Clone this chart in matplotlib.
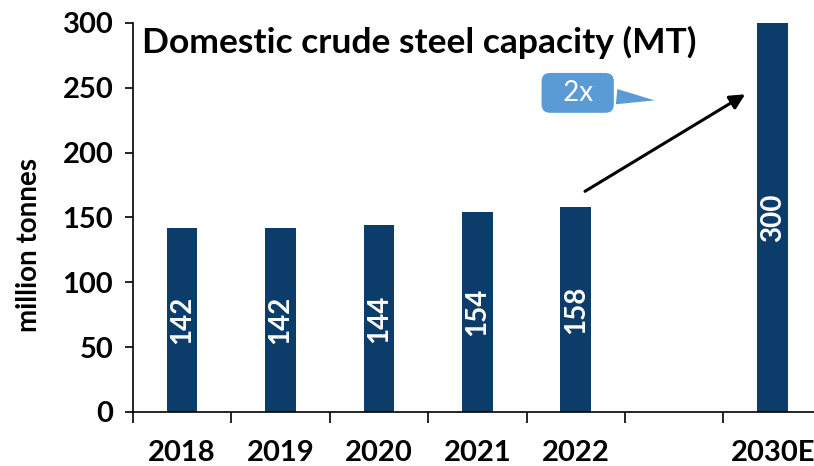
import matplotlib.pyplot as plt
from matplotlib.ticker import FixedLocator

plt.rcParams['font.family'] = ['Lato', 'DejaVu Sans']

years = ['2018', '2019', '2020', '2021', '2022', '', '2030E']
capacity = [142, 142, 144, 154, 158, None, 300]
title = 'Domestic crude steel capacity (MT)'
bar_color = '#0B3C6A'

fig = plt.figure(figsize=(8.14, 4.66), dpi=100)
ax = fig.add_axes([0.163, 0.116, 0.837, 0.835])

pos = [i for i, v in enumerate(capacity) if v is not None]
vals = [v for v in capacity if v is not None]
bars = ax.bar(pos, vals, width=0.31, color=bar_color, zorder=2)

for p, v in zip(pos, vals):
    ax.text(p, v / 2, str(v), rotation=90, ha='center', va='center',
            color='white', fontsize=20, fontweight='bold')

ax.set_xlim(-0.5, 6.42)
ax.set_ylim(0, 300)
ax.set_yticks(range(0, 301, 50))
ax.set_xticks(range(len(years)))
ax.set_xticklabels(years)
ax.xaxis.set_minor_locator(FixedLocator([i - 0.5 for i in range(len(years) + 1)]))
ax.tick_params(axis='x', which='major', length=0, pad=20)
ax.tick_params(axis='x', which='minor', length=8, width=1.2, direction='out')
ax.tick_params(axis='y', length=6, width=1.2, direction='out', pad=8)
for lab in ax.get_xticklabels() + ax.get_yticklabels():
    lab.set_fontsize(21)
    lab.set_fontweight('bold')

for s in ['top', 'right']:
    ax.spines[s].set_visible(False)
for s in ['left', 'bottom']:
    ax.spines[s].set_linewidth(1.2)

ax.set_ylabel('million tonnes', fontsize=20, fontweight='bold')
ax.yaxis.set_label_coords(-0.133, 0.43)

ax.text(0.013, 0.95, title, transform=ax.transAxes, fontsize=25.5,
        fontweight='bold', va='center', ha='left')

# growth arrow
ax.annotate('', xy=(5.745, 246), xytext=(4.07, 169),
            arrowprops=dict(arrowstyle='-|>,head_length=0.9,head_width=0.45',
                            color='black', lw=2.2))

# callout
ax.annotate('  2x  ', xy=(4.83, 240), xytext=(4.02, 246),
            ha='center', va='center', color='white', fontsize=20,
            bbox=dict(boxstyle='round,pad=0.25,rounding_size=0.3',
                      fc='#5B9BD5', ec='none'),
            arrowprops=dict(arrowstyle='wedge,tail_width=0.55',
                            fc='#5B9BD5', ec='none'))

fig.savefig('out.png', dpi=100)
